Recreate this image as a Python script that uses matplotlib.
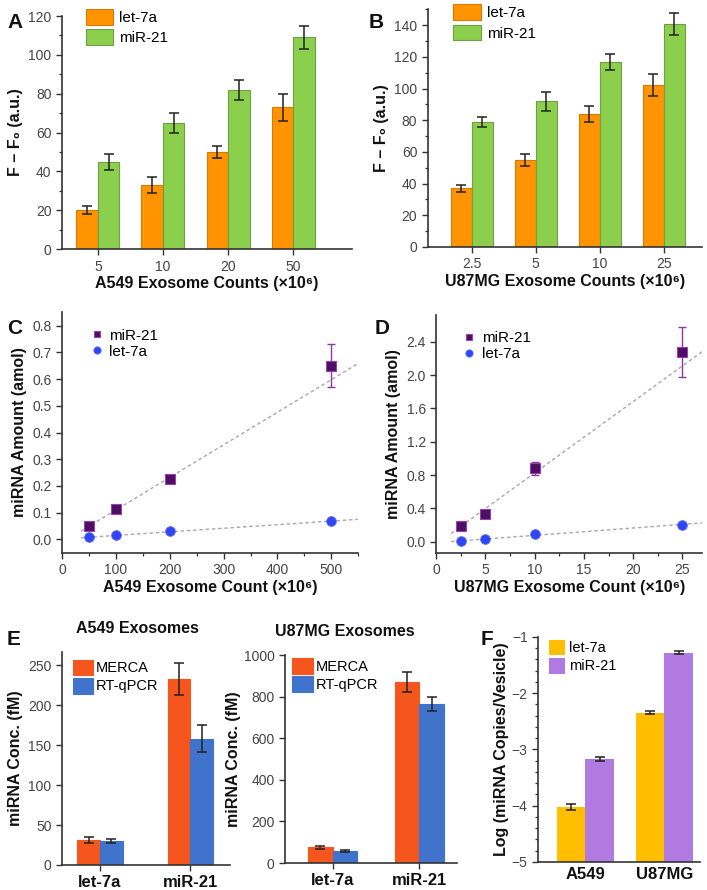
import numpy as np
import matplotlib
matplotlib.use("Agg")
import matplotlib.pyplot as plt
from matplotlib.ticker import MultipleLocator

plt.rcParams["font.family"] = ["Liberation Sans", "DejaVu Sans"]
plt.rcParams["axes.linewidth"] = 1.2

# ---------- data ----------
# A: A549 fluorescence
a_counts = ["5", "10", "20", "50"]
a_let7a = [20, 33, 50, 73]
a_let7a_err = [2, 4, 3, 7]
a_mir21 = [45, 65, 82, 109]
a_mir21_err = [4, 5, 5, 6]

# B: U87MG fluorescence
b_counts = ["2.5", "5", "10", "25"]
b_let7a = [37, 55, 84, 102]
b_let7a_err = [2, 4, 5, 7]
b_mir21 = [79, 92, 117, 141]
b_mir21_err = [3, 6, 5, 7]

# C: A549 amount vs count
c_x = [50, 100, 200, 500]
c_mir21 = [0.05, 0.115, 0.225, 0.65]
c_mir21_err = [0.005, 0.008, 0.012, 0.08]
c_let7a = [0.008, 0.015, 0.03, 0.07]
c_fit_mir21 = (0.00122, -0.012)   # slope, intercept
c_fit_let7a = (0.000134, 0.0013)

# D: U87MG amount vs count
d_x = [2.5, 5, 10, 25]
d_mir21 = [0.19, 0.33, 0.88, 2.28]
d_mir21_err = [0.03, 0.04, 0.08, 0.30]
d_let7a = [0.01, 0.03, 0.10, 0.20]
d_fit_mir21 = (0.0855, -0.028)
d_fit_let7a = (0.0088, -0.01)

# E: MERCA vs RT-qPCR
e_mirnas = ["let-7a", "miR-21"]
e_a549_merca = [31, 232]
e_a549_merca_err = [4, 20]
e_a549_qpcr = [30, 158]
e_a549_qpcr_err = [3, 17]
e_u87_merca = [75, 870]
e_u87_merca_err = [6, 50]
e_u87_qpcr = [60, 765]
e_u87_qpcr_err = [5, 35]

# F: log copies per vesicle
f_cells = ["A549", "U87MG"]
f_let7a = [-4.02, -2.35]
f_let7a_err = [0.05, 0.03]
f_mir21 = [-3.17, -1.28]
f_mir21_err = [0.03, 0.02]

ORANGE, GREEN = "#ff9400", "#8ccf4d"
RED, BLUE = "#f4561d", "#3f73cc"
GOLD, LILAC = "#ffbf00", "#b07ae0"
PURPLE, DBLUE = "#4d0f63", "#2f46f2"
TICKC = "#444444"

fig = plt.figure(figsize=(7.07, 8.90), dpi=100)


def style(ax):
    for s in ["top", "right"]:
        ax.spines[s].set_visible(False)
    for s in ["left", "bottom"]:
        ax.spines[s].set_color("#333333")
    ax.tick_params(labelsize=10, labelcolor=TICKC, color="#333333", length=4, width=1)
    ax.tick_params(which="minor", length=2.5, width=0.9, color="#333333")


def ebar(ax, x, y, e, color="#222222"):
    ax.errorbar(x, y, yerr=e, fmt="none", ecolor=color, elinewidth=1.1,
                capsize=3.5, capthick=1.1, zorder=4)


def grouped(ax, labels, s1, e1, s2, e2, c1, c2, ec1, ec2, w):
    x = np.arange(len(labels))
    ax.bar(x - w / 2, s1, w, color=c1, edgecolor=ec1, linewidth=0.8, zorder=2)
    ax.bar(x + w / 2, s2, w, color=c2, edgecolor=ec2, linewidth=0.8, zorder=2)
    ebar(ax, x - w / 2, s1, e1)
    ebar(ax, x + w / 2, s2, e2)
    ax.set_xticks(x)
    ax.set_xticklabels(labels)
    return x


lab_kw = dict(fontsize=11.5, fontweight="bold", color="#111111")
leg_kw = dict(frameon=False, fontsize=11, handlelength=1.8, handleheight=1.2,
              handletextpad=0.4, labelspacing=0.3, borderaxespad=0.2)

# ---------- A ----------
axA = fig.add_axes([0.0877, 0.720, 0.410, 0.262])
style(axA)
grouped(axA, a_counts, a_let7a, a_let7a_err, a_mir21, a_mir21_err,
        ORANGE, GREEN, "#d97a00", "#6e9e45", 0.33)
axA.set_xlim(-0.55, 3.9)
axA.set_ylim(0, 120)
axA.yaxis.set_major_locator(MultipleLocator(20))
axA.yaxis.set_minor_locator(MultipleLocator(10))
axA.set_xlabel("A549 Exosome Counts (×10⁶)", labelpad=2, **lab_kw)
axA.set_ylabel("F – F₀ (a.u.)", labelpad=4, **lab_kw)
axA.legend(["let-7a", "miR-21"], loc="upper left", bbox_to_anchor=(0.05, 1.07), **leg_kw)

# ---------- B ----------
axB = fig.add_axes([0.605, 0.7225, 0.388, 0.267])
style(axB)
grouped(axB, b_counts, b_let7a, b_let7a_err, b_mir21, b_mir21_err,
        ORANGE, GREEN, "#d97a00", "#6e9e45", 0.33)
axB.set_xlim(-0.69, 3.6)
axB.set_ylim(0, 150)
axB.yaxis.set_major_locator(MultipleLocator(20))
axB.yaxis.set_minor_locator(MultipleLocator(10))
axB.set_xlabel("U87MG Exosome Counts (×10⁶)", labelpad=2, **lab_kw)
axB.set_ylabel("F – F₀ (a.u.)", labelpad=4, **lab_kw)
axB.legend(["let-7a", "miR-21"], loc="upper left", bbox_to_anchor=(0.06, 1.06), **leg_kw)


# ---------- C / D ----------
def scatter_panel(ax, x, mir, mir_err, let, fit_m, fit_l, xr):
    style(ax)
    xx = np.array(xr)
    ax.plot(xx, fit_m[0] * xx + fit_m[1], ls=(0, (2.5, 2)), color="#a8a8a8", lw=1, zorder=1)
    ax.plot(xx, fit_l[0] * xx + fit_l[1], ls=(0, (2.5, 2)), color="#a8a8a8", lw=1, zorder=1)
    ax.errorbar(x, mir, yerr=mir_err, fmt="none", ecolor="#8a3b9e", elinewidth=1,
                capsize=3, capthick=1, zorder=3)
    h1, = ax.plot(x, mir, "s", ms=6.5, color=PURPLE, mec="#9a3fae", mew=0.8, zorder=4)
    h2, = ax.plot(x, let, "o", ms=7, color=DBLUE, mec="#5a6cf7", mew=0.6, zorder=4)
    ax.legend([h1, h2], ["miR-21", "let-7a"], loc="upper left", frameon=False,
              fontsize=11, handlelength=0.8, handletextpad=0.4, labelspacing=0.15,
              markerscale=0.75, bbox_to_anchor=(0.05, 0.99))


axC = fig.add_axes([0.0877, 0.379, 0.419, 0.270])
scatter_panel(axC, c_x, c_mir21, c_mir21_err, c_let7a, c_fit_mir21, c_fit_let7a, [35, 550])
axC.set_xlim(0, 550)
axC.set_ylim(-0.05, 0.85)
axC.xaxis.set_major_locator(MultipleLocator(100))
axC.xaxis.set_minor_locator(MultipleLocator(50))
axC.yaxis.set_major_locator(MultipleLocator(0.1))
axC.yaxis.set_major_formatter(plt.FuncFormatter(lambda v, p: f"{v:.1f}"))
axC.set_xlabel("A549 Exosome Count (×10⁶)", labelpad=2, **lab_kw)
axC.set_ylabel("miRNA Amount (amol)", labelpad=4, **lab_kw)

axD = fig.add_axes([0.617, 0.379, 0.376, 0.267])
scatter_panel(axD, d_x, d_mir21, d_mir21_err, d_let7a, d_fit_mir21, d_fit_let7a, [1.5, 27])
axD.set_xlim(0, 27)
axD.set_ylim(-0.13, 2.72)
axD.xaxis.set_major_locator(MultipleLocator(5))
axD.xaxis.set_minor_locator(MultipleLocator(2.5))
axD.yaxis.set_major_locator(MultipleLocator(0.4))
axD.yaxis.set_major_formatter(plt.FuncFormatter(lambda v, p: f"{v:.1f}"))
axD.set_xlabel("U87MG Exosome Count (×10⁶)", labelpad=2, **lab_kw)
axD.set_ylabel("miRNA Amount (amol)", labelpad=4, **lab_kw)

# ---------- E ----------
leg_e = dict(frameon=False, fontsize=10.5, handlelength=1.4, handleheight=1.3,
             handletextpad=0.2, labelspacing=0.15, borderaxespad=0.1)

axE1 = fig.add_axes([0.0877, 0.0281, 0.238, 0.239])
style(axE1)
grouped(axE1, e_mirnas, e_a549_merca, e_a549_merca_err, e_a549_qpcr, e_a549_qpcr_err,
        RED, BLUE, RED, BLUE, 0.25)
axE1.set_xlim(-0.42, 1.44)
axE1.set_ylim(0, 266)
axE1.yaxis.set_major_locator(MultipleLocator(50))
axE1.tick_params(axis="x", labelsize=12, labelcolor="#111111")
for t in axE1.get_xticklabels():
    t.set_fontweight("bold")
axE1.set_ylabel("miRNA Conc. (fM)", labelpad=4, **lab_kw)
axE1.set_title("A549 Exosomes", pad=14, x=0.45, **lab_kw)
axE1.legend(["MERCA", "RT-qPCR"], loc="upper left", bbox_to_anchor=(0.02, 1.0), **leg_e)

axE2 = fig.add_axes([0.403, 0.0303, 0.243, 0.2337])
style(axE2)
grouped(axE2, e_mirnas, e_u87_merca, e_u87_merca_err, e_u87_qpcr, e_u87_qpcr_err,
        RED, BLUE, RED, BLUE, 0.28)
axE2.set_xlim(-0.55, 1.43)
axE2.set_ylim(0, 1000)
axE2.yaxis.set_major_locator(MultipleLocator(200))
axE2.tick_params(axis="x", labelsize=12, labelcolor="#111111")
for t in axE2.get_xticklabels():
    t.set_fontweight("bold")
axE2.set_ylabel("miRNA Conc. (fM)", labelpad=2, **lab_kw)
axE2.set_title("U87MG Exosomes", pad=14, x=0.35, **lab_kw)
axE2.legend(["MERCA", "RT-qPCR"], loc="upper left", bbox_to_anchor=(0.0, 1.02), **leg_e)

# ---------- F ----------
axF = fig.add_axes([0.761, 0.0315, 0.229, 0.253])
style(axF)
xf = np.arange(len(f_cells))
wf = 0.36
axF.bar(xf - wf / 2, np.array(f_let7a) + 5, wf, bottom=-5, color=GOLD, zorder=2)
axF.bar(xf + wf / 2, np.array(f_mir21) + 5, wf, bottom=-5, color=LILAC, zorder=2)
ebar(axF, xf - wf / 2, f_let7a, f_let7a_err)
ebar(axF, xf + wf / 2, f_mir21, f_mir21_err)
axF.set_xticks(xf)
axF.set_xticklabels(f_cells)
axF.set_xlim(-0.6, 1.45)
axF.set_ylim(-5, -1)
axF.yaxis.set_major_locator(MultipleLocator(1))
axF.yaxis.set_minor_locator(MultipleLocator(0.2))
axF.tick_params(axis="x", labelsize=12, labelcolor="#111111", length=0)
for t in axF.get_xticklabels():
    t.set_fontweight("bold")
axF.set_ylabel("Log (miRNA Copies/Vesicle)", labelpad=2, **lab_kw)
axF.legend(["let-7a", "miR-21"], loc="upper left", bbox_to_anchor=(0.02, 1.02),
           frameon=False, fontsize=10.5, handlelength=1.1, handleheight=1.3,
           handletextpad=0.3, labelspacing=0.15, borderaxespad=0.1)

# ---------- panel letters ----------
for letter, x, y in [("A", 0.010, 0.985), ("B", 0.521, 0.985), ("C", 0.010, 0.642),
                     ("D", 0.530, 0.642), ("E", 0.010, 0.292), ("F", 0.680, 0.292)]:
    fig.text(x, y, letter, fontsize=15, fontweight="bold", va="top", color="#111111")

fig.savefig("out.png", dpi=100)
